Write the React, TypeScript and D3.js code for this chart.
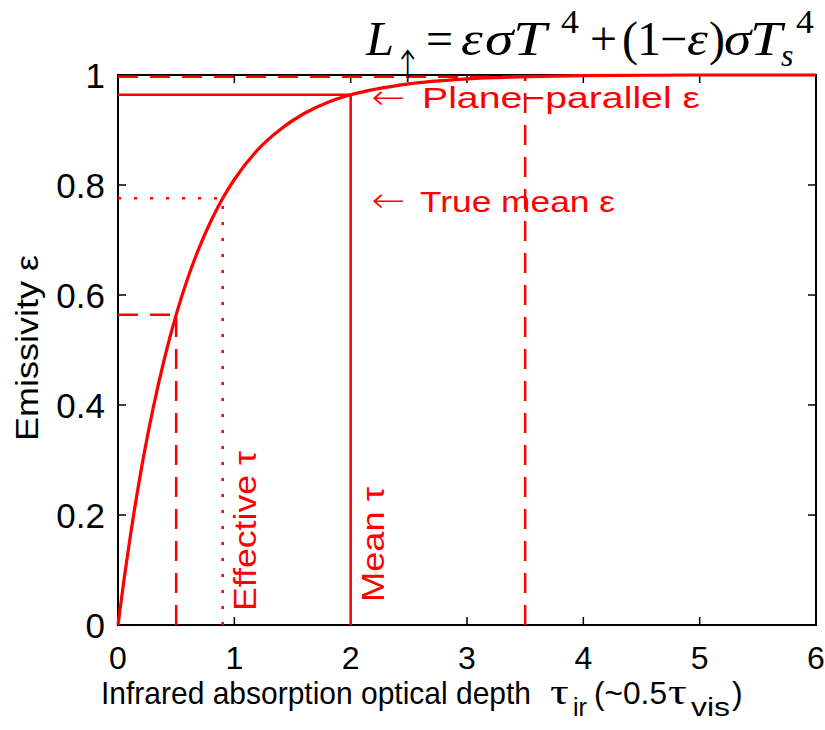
import React from "react";
import * as d3 from "d3";

const tauSamples = [0, 0.05, 0.1, 0.2, 0.3, 0.4, 0.5, 0.6, 0.7, 0.8, 0.9, 1.0, 1.2, 1.4, 1.6, 1.8, 2.0, 2.5, 3.0, 3.5, 4.0, 5.0, 6.0];
const emisSamples = [0, 0.08, 0.153, 0.283, 0.392, 0.485, 0.564, 0.631, 0.687, 0.735, 0.776, 0.81, 0.864, 0.902, 0.93, 0.95, 0.964, 0.984, 0.993, 0.997, 0.999, 1.0, 1.0];

const xTicks = [0, 1, 2, 3, 4, 5, 6];
const yTicks = [0, 0.2, 0.4, 0.6, 0.8, 1];
const yTickLabels = ["0", "0.2", "0.4", "0.6", "0.8", "1"];

// reference markers: tau, emissivity, line style
const markerTau = [0.5, 0.9, 2.0, 3.5];
const markerEps = [0.564, 0.776, 0.964, 0.997];
const markerStyle = ["dashed", "dotted", "solid", "dashed"];

const W = 825;
const H = 730;
const left = 118, right = 816, top = 75, bottom = 625;
const RED = "#ff0000";
const font = "'Liberation Sans', Arial, Helvetica, sans-serif";
const serif = "'Liberation Serif', 'Times New Roman', serif";
const arrowFont = "'DejaVu Sans', sans-serif";

function G(props: { x: number; y: number; sx?: number; size: number; italic?: boolean; family?: string; weight?: number; children: React.ReactNode }) {
  const { x, y, sx = 1, size, italic, family = serif, weight = 400, children } = props;
  return (
    <text transform={`translate(${x},${y}) scale(${sx},1)`} fontFamily={family} fontSize={size} fontWeight={weight} fontStyle={italic ? "italic" : "normal"} fill="#000">
      {children}
    </text>
  );
}

export default function App() {
  const x = d3.scaleLinear().domain([0, 6]).range([left, right]);
  const y = d3.scaleLinear().domain([0, 1]).range([bottom, top]);
  const line = d3
    .line<number>()
    .x((_, i) => x(tauSamples[i]))
    .y((d) => y(d))
    .curve(d3.curveMonotoneX);
  const dash = (s: string) => (s === "dashed" ? "20 12" : s === "dotted" ? "3 13" : undefined);

  return (
    <div style={{ position: "fixed", left: 0, top: 0 }}>
      <svg width={W} height={H} style={{ display: "block", background: "#fff" }}>
        {/* box */}
        <rect x={left} y={top} width={right - left} height={bottom - top} fill="none" stroke="#000" strokeWidth={2} />
        {/* ticks */}
        {xTicks.map((t) => (
          <g key={"xt" + t}>
            <line x1={x(t)} x2={x(t)} y1={bottom} y2={bottom - 8} stroke="#000" strokeWidth={1.5} />
            <line x1={x(t)} x2={x(t)} y1={top} y2={top + 8} stroke="#000" strokeWidth={1.5} />
            <text x={x(t)} y={669} textAnchor="middle" fontFamily={font} fontSize={32} fill="#000">
              {t}
            </text>
          </g>
        ))}
        {yTicks.map((t, i) => (
          <g key={"yt" + t}>
            <line x1={left} x2={left + 8} y1={y(t)} y2={y(t)} stroke="#000" strokeWidth={1.5} />
            <line x1={right} x2={right - 8} y1={y(t)} y2={y(t)} stroke="#000" strokeWidth={1.5} />
            <text x={105} y={y(t) + 13} textAnchor="end" fontFamily={font} fontSize={35} fill="#000">
              {yTickLabels[i]}
            </text>
          </g>
        ))}
        {/* markers */}
        {markerTau.map((t, i) => (
          <g key={"m" + i}>
            <line x1={x(0)} x2={x(t)} y1={y(markerEps[i])} y2={y(markerEps[i])} stroke={RED} strokeWidth={2.5} strokeDasharray={dash(markerStyle[i])} />
            <line x1={x(t)} x2={x(t)} y1={y(0)} y2={y(markerEps[i])} stroke={RED} strokeWidth={2.5} strokeDasharray={dash(markerStyle[i])} />
          </g>
        ))}
        {/* curve */}
        <path d={line(emisSamples) || ""} fill="none" stroke={RED} strokeWidth={3.2} />
        {/* annotations */}
        <text x={371} y={109} fontFamily={arrowFont} fontWeight={200} fontSize={34} fill={RED} textLength={34} lengthAdjust="spacingAndGlyphs">←</text>
        <text x={422} y={108} fontFamily={font} fontSize={29} fill={RED} textLength={278} lengthAdjust="spacingAndGlyphs">Plane−parallel ε</text>
        <text x={371} y={212} fontFamily={arrowFont} fontWeight={200} fontSize={34} fill={RED} textLength={34} lengthAdjust="spacingAndGlyphs">←</text>
        <text x={420} y={212} fontFamily={font} fontSize={29} fill={RED} textLength={195} lengthAdjust="spacingAndGlyphs">True mean ε</text>
        <text transform={`translate(256,611) rotate(-90)`} fontFamily={font} fontSize={31} fill={RED} textLength={160} lengthAdjust="spacingAndGlyphs">Effective τ</text>
        <text transform={`translate(384,602) rotate(-90)`} fontFamily={font} fontSize={31} fill={RED} textLength={115} lengthAdjust="spacingAndGlyphs">Mean τ</text>
        {/* axis labels */}
        <text transform={`translate(38,441) rotate(-90)`} fontFamily={font} fontSize={31} fill="#000" textLength={186} lengthAdjust="spacingAndGlyphs">Emissivity ε</text>
        <text x={101} y={704} fontFamily={font} fontSize={32} fill="#000" textLength={430} lengthAdjust="spacingAndGlyphs">Infrared absorption optical depth</text>
        <G x={550} y={704} sx={1.3} size={36}>τ</G>
        <G x={573} y={716} size={25} family={font}>ir</G>
        <text x={594} y={704} fontFamily={font} fontSize={32} fill="#000" textLength={73} lengthAdjust="spacingAndGlyphs">(~0.5</text>
        <G x={668} y={704} sx={1.3} size={36}>τ</G>
        <text x={691} y={716} fontFamily={font} fontSize={25} fill="#000" textLength={39} lengthAdjust="spacingAndGlyphs">vis</text>
        <text x={732} y={704} fontFamily={font} fontSize={32} fill="#000">)</text>
        {/* formula */}
        <G x={366} y={55} sx={1.05} size={48} italic>L</G>
        <G x={394} y={82} sx={0.75} size={44} family={arrowFont} weight={200}>↑</G>
        <G x={426} y={55} size={48}>=</G>
        <G x={461} y={55} sx={1.15} size={48} italic>ε</G>
        <G x={485} y={55} sx={1.2} size={48} italic>σ</G>
        <G x={513} y={55} sx={1.25} size={48} italic>T</G>
        <G x={561} y={33} sx={1.05} size={34}>4</G>
        <G x={590} y={55} size={48}>+</G>
        <G x={622} y={55} size={48}>(</G>
        <G x={637} y={55} size={48}>1</G>
        <G x={660} y={55} size={48}>−</G>
        <G x={687} y={55} sx={1.1} size={48} italic>ε</G>
        <G x={709} y={55} size={48}>)</G>
        <G x={724} y={55} sx={1.15} size={48} italic>σ</G>
        <G x={750} y={55} sx={1.2} size={48} italic>T</G>
        <G x={781} y={66} size={32} italic>s</G>
        <G x={796} y={33} sx={1.05} size={34}>4</G>
      </svg>
    </div>
  );
}
